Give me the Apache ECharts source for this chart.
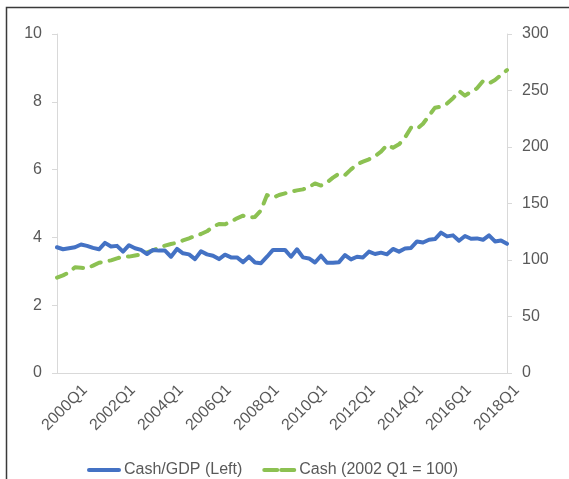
<!DOCTYPE html>
<html>
<head>
<meta charset="utf-8">
<script src="https://cdn.jsdelivr.net/npm/echarts@6/dist/echarts.min.js"></script>
<style>
  html, body { margin: 0; padding: 0; background: #fff; }
  #chart { width: 569px; height: 479px; }
</style>
</head>
<body>
<div id="chart"></div>
<script>
// quarters 2000Q1 .. 2018Q4
const quarters = []
for (let y = 2000; y <= 2018; y++) {
  for (let q = 1; q <= 4; q++) quarters.push(y + 'Q' + q)
}

// Cash/GDP, left axis
const cashGdp = [
  3.71, 3.65, 3.68, 3.71, 3.79, 3.75, 3.69, 3.65, 3.84, 3.73,
  3.75, 3.58, 3.77, 3.68, 3.63, 3.51, 3.63, 3.61, 3.61, 3.43,
  3.66, 3.53, 3.50, 3.36, 3.59, 3.50, 3.46, 3.36, 3.49, 3.41,
  3.41, 3.27, 3.43, 3.26, 3.24, 3.43, 3.63, 3.63, 3.63, 3.43,
  3.65, 3.41, 3.38, 3.26, 3.46, 3.25, 3.25, 3.27, 3.48, 3.35,
  3.43, 3.41, 3.58, 3.51, 3.55, 3.50, 3.66, 3.58, 3.67, 3.69,
  3.88, 3.85, 3.93, 3.95, 4.14, 4.03, 4.06, 3.90, 4.04, 3.96,
  3.97, 3.93, 4.06, 3.88, 3.91, 3.81
]

// Cash index (2002 Q1 = 100), right axis
const cashIndex = [
  84.4, 86.4, 89.1, 93.5, 93.2, 92.6, 95.0, 97.6, 98.5, 99.7,
  101.5, 103.0, 103.0, 104.0, 105.0, 106.8, 108.6, 110.9, 112.7, 114.2,
  115.3, 117.4, 119.2, 121.2, 123.0, 125.4, 129.5, 131.9, 131.6, 133.9,
  136.9, 139.2, 137.5, 138.1, 144.0, 157.5, 155.2, 157.5, 159.0, 160.5,
  161.6, 162.5, 164.6, 167.8, 165.9, 168.7, 172.9, 176.4, 175.2, 180.2,
  184.7, 187.0, 189.1, 192.0, 195.9, 201.8, 199.4, 202.4, 208.3, 217.1,
  215.9, 220.6, 227.7, 234.8, 235.7, 238.4, 243.1, 249.6, 245.4, 249.0,
  251.9, 258.4, 256.3, 259.3, 263.7, 268.1
]

const seriesNames = ['Cash/GDP (Left)', 'Cash (2002 Q1 = 100)']

const blue = '#4472c4'
const green = '#8cc152'
const greenDash = [10, 9]
const textColor = '#595959'
const axisColor = '#d9d9d9'
const font = 'Liberation Sans, Arial, sans-serif'

const chart = echarts.init(document.getElementById('chart'))

chart.setOption({
  animation: false,
  textStyle: { fontFamily: font },
  grid: { left: 57, right: 62, top: 34, bottom: 106, containLabel: false },
  // frame of the original picture (top and left edge only)
  graphic: [{
    type: 'polyline',
    shape: { points: [[6.5, 479], [6.5, 7.5], [569, 7.5]] },
    style: { stroke: '#3a3a3a', lineWidth: 1.5, fill: null },
    silent: true
  }],
  legend: {
    left: 82,
    top: 457,
    itemWidth: 30,
    itemHeight: 14,
    itemGap: 20,
    itemStyle: { opacity: 0 },
    textStyle: { color: textColor, fontSize: 16, fontFamily: font },
    data: [
      { name: seriesNames[0], lineStyle: { width: 4, color: blue, type: 'solid' } },
      { name: seriesNames[1], lineStyle: { width: 4, color: green, type: [13, 4] } }
    ]
  },
  xAxis: {
    type: 'category',
    data: quarters,
    boundaryGap: false,
    axisLine: { lineStyle: { color: axisColor, width: 1 } },
    axisTick: { show: false },
    axisLabel: {
      interval: 7,
      rotate: 45,
      margin: 27,
      align: 'center',
      verticalAlign: 'top',
      padding: [3, 0, 0, 0],
      color: textColor,
      fontSize: 16,
      fontFamily: font
    },
    splitLine: { show: false }
  },
  yAxis: [
    {
      type: 'value',
      min: 0,
      max: 10,
      interval: 2,
      axisLine: { show: true, lineStyle: { color: axisColor } },
      axisTick: { show: true, length: 5, lineStyle: { color: axisColor } },
      axisLabel: { margin: 15, color: textColor, fontSize: 16, fontFamily: font },
      splitLine: { show: false }
    },
    {
      type: 'value',
      position: 'right',
      min: 0,
      max: 300,
      interval: 50,
      axisLine: { show: true, lineStyle: { color: axisColor } },
      axisTick: { show: true, length: 5, lineStyle: { color: axisColor } },
      axisLabel: { margin: 15, color: textColor, fontSize: 16, fontFamily: font },
      splitLine: { show: false }
    }
  ],
  series: [
    {
      name: seriesNames[0],
      type: 'line',
      yAxisIndex: 0,
      data: cashGdp,
      symbol: 'none',
      lineStyle: { color: blue, width: 4, join: 'round', cap: 'round' },
      itemStyle: { color: blue },
      z: 3
    },
    {
      name: seriesNames[1],
      type: 'line',
      yAxisIndex: 1,
      data: cashIndex,
      symbol: 'none',
      lineStyle: { color: green, width: 4, type: greenDash, cap: 'round', join: 'round' },
      itemStyle: { color: green },
      z: 2
    }
  ]
})
</script>
</body>
</html>
